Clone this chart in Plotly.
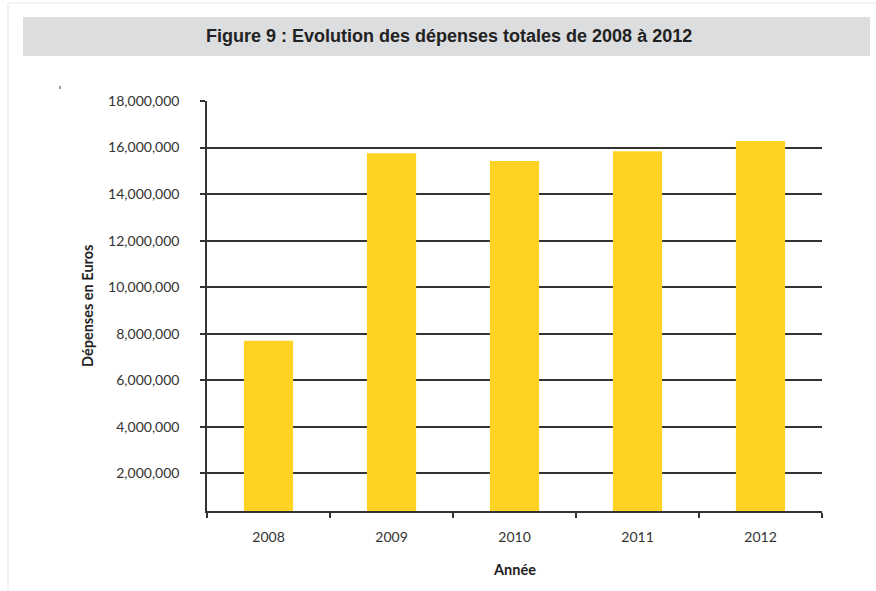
import plotly.graph_objects as go

# Total expenditure per year (euros)
annees = ["2008", "2009", "2010", "2011", "2012"]
depenses = [7700000, 15750000, 15420000, 15840000, 16280000]

y_ticks = [2000000, 4000000, 6000000, 8000000, 10000000,
           12000000, 14000000, 16000000, 18000000]
y_tick_labels = [f"{v:,}" for v in y_ticks]

BAR_COLOR = "#FFD324"
LINE_COLOR = "#333333"
TEXT_FONT = "Lato, 'Open Sans', sans-serif"

# plot area in pixels, used to place decorations in paper coordinates
L, R, T, B = 207, 822, 101, 511


def px(x):
    return (x - L) / (R - L)


def py(y):
    return (B - y) / (B - T)


fig = go.Figure(
    go.Bar(
        x=annees,
        y=depenses,
        marker=dict(color=BAR_COLOR, line=dict(width=0)),
        hoverinfo="x+y",
    )
)

fig.update_layout(
    width=876,
    height=591,
    paper_bgcolor="white",
    plot_bgcolor="white",
    margin=dict(l=L, r=876 - R, t=T, b=591 - B),
    bargap=0.6,
    showlegend=False,
    font=dict(family=TEXT_FONT, size=14, color=LINE_COLOR),
    shapes=[
        # faint page edges
        dict(type="line", xref="paper", yref="paper",
             x0=px(8), x1=px(8), y0=py(591), y1=py(3),
             line=dict(color="#f2f2f2", width=2), layer="below"),
        dict(type="line", xref="paper", yref="paper",
             x0=px(8), x1=px(876), y0=py(3), y1=py(3),
             line=dict(color="#f4f4f4", width=2), layer="below"),
        # grey title band
        dict(type="rect", xref="paper", yref="paper",
             x0=px(23), x1=px(870), y0=py(56), y1=py(17),
             line=dict(width=0), fillcolor="#DCDDDF", layer="below"),
        # small stray mark
        dict(type="rect", xref="paper", yref="paper",
             x0=px(59), x1=px(61), y0=py(89), y1=py(86),
             line=dict(width=0), fillcolor="#999999"),
    ],
    annotations=[
        dict(text="<b>Figure 9 : Evolution des dépenses totales de 2008 à 2012</b>",
             xref="paper", yref="paper",
             x=px(449), y=py(36),
             xanchor="center", yanchor="middle", showarrow=False,
             font=dict(family="'Liberation Sans', Arial, sans-serif",
                       size=18, color="#222222")),
        dict(text="<b>Dépenses en Euros</b>",
             xref="paper", yref="paper",
             x=px(87), y=py(306),
             xanchor="center", yanchor="middle", textangle=-90, showarrow=False,
             font=dict(family=TEXT_FONT, size=14.5, color="#222222")),
        dict(text="<b>Année</b>",
             xref="paper", yref="paper",
             x=0.5, y=py(569),
             xanchor="center", yanchor="middle", showarrow=False,
             font=dict(family=TEXT_FONT, size=14.5, color="#222222")),
    ],
)

fig.update_xaxes(
    showline=True, linecolor=LINE_COLOR, linewidth=1.5,
    ticks="outside", tickson="boundaries", ticklen=5,
    tickcolor=LINE_COLOR, tickwidth=1.5,
    showgrid=False, ticklabelstandoff=12,
    tickfont=dict(family=TEXT_FONT, size=14, color=LINE_COLOR),
)

fig.update_yaxes(
    range=[380000, 18000000],
    tickvals=y_ticks, ticktext=y_tick_labels,
    showline=True, linecolor=LINE_COLOR, linewidth=1.5,
    ticks="outside", ticklen=5, tickcolor=LINE_COLOR, tickwidth=1.5,
    showgrid=True, gridcolor=LINE_COLOR, gridwidth=1.5,
    zeroline=False, ticklabelstandoff=18,
    tickfont=dict(family=TEXT_FONT, size=14, color=LINE_COLOR),
)

fig.write_html("out.html")
